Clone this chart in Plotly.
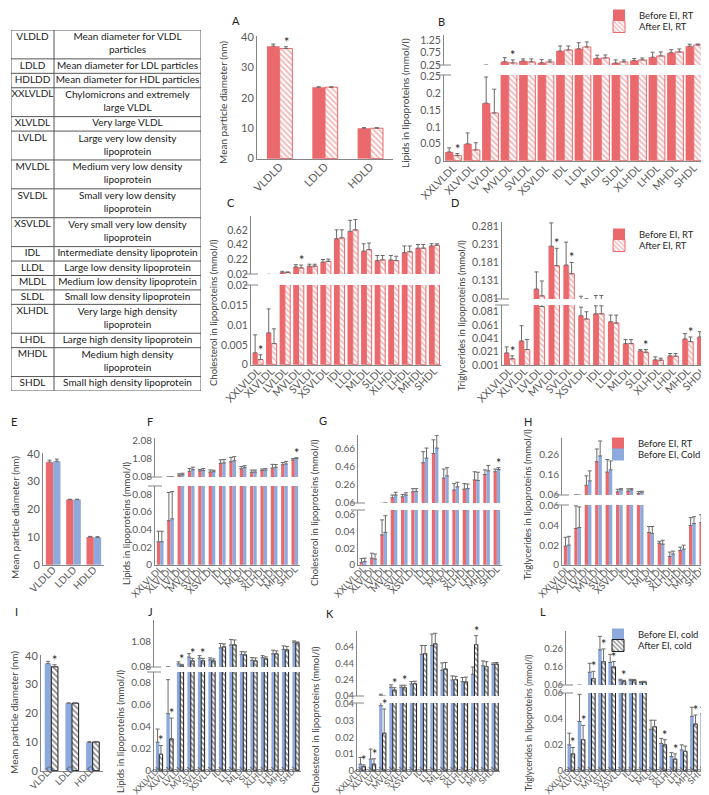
import plotly.graph_objects as go

# ---------------- data ----------------
table_abbr = ["VLDLD", "LDLD", "HDLDD", "XXLVLDL", "XLVLDL", "LVLDL", "MVLDL", "SVLDL",
              "XSVLDL", "IDL", "LLDL", "MLDL", "SLDL", "XLHDL", "LHDL", "MHDL", "SHDL"]
table_desc = ["Mean diameter for VLDL<br>particles", "Mean diameter for LDL particles",
              "Mean diameter for HDL particles", "Chylomicrons and extremely<br>large VLDL",
              "Very large VLDL", "Large very low density<br>lipoprotein",
              "Medium very low density<br>lipoprotein", "Small very low density<br>lipoprotein",
              "Very small very low density<br>lipoprotein", "Intermediate density lipoprotein",
              "Large low density lipoprotein", "Medium low density lipoprotein",
              "Small low density lipoprotein", "Very large high density<br>lipoprotein",
              "Large high density lipoprotein", "Medium high density<br>lipoprotein",
              "Small high density lipoprotein"]

diam_cats = ["VLDLD", "LDLD", "HDLD"]
lp_cats = ["XXLVLDL", "XLVLDL", "LVLDL", "MVLDL", "SVLDL", "XSVLDL", "IDL", "LLDL",
           "MLDL", "SLDL", "XLHDL", "LHDL", "MHDL", "SHDL"]

diam_before_rt = [37.0, 23.5, 10.0]
diam_before_rt_err = [0.7, 0.1, 0.2]
diam_after_rt = [36.2, 23.5, 10.0]
diam_after_rt_err = [0.6, 0.1, 0.2]
diam_before_cold = [37.3, 23.5, 9.8]
diam_before_cold_err = [0.8, 0.1, 0.3]
diam_after_cold = [36.2, 23.5, 10.0]
diam_after_cold_err = [0.7, 0.1, 0.2]

lipids_before_rt = [0.026, 0.05, 0.17, 0.38, 0.41, 0.34, 0.81, 0.90, 0.52, 0.33, 0.43, 0.56, 0.74, 1.00]
lipids_before_rt_err = [0.012, 0.032, 0.077, 0.16, 0.08, 0.12, 0.2, 0.24, 0.12, 0.12, 0.08, 0.2, 0.12, 0.08]
lipids_after_rt = [0.015, 0.032, 0.141, 0.33, 0.37, 0.37, 0.85, 0.97, 0.53, 0.37, 0.45, 0.61, 0.77, 1.05]
lipids_after_rt_err = [0.006, 0.021, 0.07, 0.12, 0.12, 0.08, 0.16, 0.2, 0.12, 0.08, 0.08, 0.16, 0.12, 0.04]
lipids_before_cold = [0.026, 0.052, 0.2, 0.47, 0.43, 0.36, 0.84, 0.96, 0.58, 0.34, 0.45, 0.6, 0.78, 1.07]
lipids_before_cold_err = [0.012, 0.031, 0.08, 0.14, 0.1, 0.08, 0.18, 0.22, 0.11, 0.11, 0.08, 0.15, 0.14, 0.05]
lipids_after_cold = [0.015, 0.029, 0.12, 0.32, 0.32, 0.32, 0.88, 0.96, 0.56, 0.32, 0.4, 0.6, 0.76, 1.04]
lipids_after_cold_err = [0.008, 0.019, 0.06, 0.1, 0.1, 0.08, 0.12, 0.2, 0.12, 0.12, 0.08, 0.12, 0.14, 0.04]

chol_before_rt = [0.0030, 0.008, 0.036, 0.115, 0.125, 0.18, 0.5, 0.6, 0.33, 0.2, 0.21, 0.31, 0.37, 0.4]
chol_before_rt_err = [0.0045, 0.006, 0.018, 0.03, 0.026, 0.035, 0.12, 0.15, 0.1, 0.07, 0.06, 0.09, 0.05, 0.03]
chol_after_rt = [0.0013, 0.0053, 0.04, 0.10, 0.125, 0.19, 0.51, 0.62, 0.35, 0.21, 0.2, 0.32, 0.37, 0.41]
chol_after_rt_err = [0.0012, 0.0037, 0.005, 0.04, 0.026, 0.03, 0.11, 0.14, 0.09, 0.06, 0.06, 0.08, 0.05, 0.02]
chol_before_cold = [0.004, 0.007, 0.039, 0.145, 0.145, 0.185, 0.55, 0.66, 0.355, 0.235, 0.215, 0.305, 0.41, 0.425]
chol_before_cold_err = [0.004, 0.006, 0.02, 0.03, 0.025, 0.03, 0.11, 0.14, 0.09, 0.05, 0.05, 0.09, 0.06, 0.02]
chol_after_cold = [0.0025, 0.004, 0.0225, 0.11, 0.14, 0.19, 0.56, 0.68, 0.37, 0.24, 0.21, 0.67, 0.40, 0.43]
chol_after_cold_err = [0.001, 0.0032, 0.0145, 0.03, 0.03, 0.03, 0.1, 0.13, 0.08, 0.04, 0.06, 0.11, 0.06, 0.02]

tg_before_rt = [0.019, 0.037, 0.108, 0.226, 0.174, 0.075, 0.078, 0.066, 0.033, 0.022, 0.0085, 0.0145, 0.040, 0.043]
tg_before_rt_err = [0.009, 0.023, 0.047, 0.064, 0.063, 0.013, 0.012, 0.010, 0.006, 0.002, 0.0045, 0.0035, 0.008, 0.008]
tg_after_rt = [0.010, 0.024, 0.089, 0.172, 0.15, 0.070, 0.078, 0.064, 0.033, 0.020, 0.008, 0.014, 0.036, 0.040]
tg_after_rt_err = [0.0045, 0.015, 0.041, 0.048, 0.031, 0.011, 0.012, 0.012, 0.006, 0.004, 0.003, 0.004, 0.007, 0.006]
tg_before_cold = [0.020, 0.038, 0.13, 0.255, 0.185, 0.085, 0.085, 0.073, 0.032, 0.021, 0.011, 0.016, 0.042, 0.044]
tg_before_cold_err = [0.009, 0.021, 0.05, 0.075, 0.045, 0.006, 0.006, 0.005, 0.007, 0.004, 0.003, 0.004, 0.007, 0.005]
tg_after_cold = [0.013, 0.024, 0.095, 0.19, 0.16, 0.08, 0.085, 0.075, 0.034, 0.020, 0.009, 0.015, 0.036, 0.041]
tg_after_cold_err = [0.005, 0.011, 0.04, 0.07, 0.03, 0.005, 0.005, 0.005, 0.005, 0.004, 0.004, 0.004, 0.007, 0.006]

# significance stars (placed on the second series of each panel)
A_stars = ["VLDLD"]
B_stars = ["XXLVLDL", "MVLDL"]
C_stars = ["XXLVLDL", "MVLDL"]
D_stars = ["XXLVLDL", "MVLDL", "SVLDL", "SLDL", "MHDL", "SHDL"]
E_stars = []
F_stars = ["SHDL"]
G_stars = ["SHDL"]
H_stars = []
I_stars = ["VLDLD"]
J_stars = ["XXLVLDL", "XLVLDL", "LVLDL", "MVLDL", "SVLDL"]
K_stars = ["XXLVLDL", "XLVLDL", "LVLDL", "MVLDL", "SVLDL", "LHDL"]
L_stars = ["XXLVLDL", "XLVLDL", "LVLDL", "MVLDL", "SVLDL", "XSVLDL", "SLDL", "XLHDL", "MHDL", "SHDL"]

# tick labels
diam_ticks = [0, 10, 20, 30, 40]
B_low_ticks = [0, 0.05, 0.1, 0.15, 0.2, 0.25]
B_up_ticks = [0.25, 0.75, 1.25]
C_low_ticks = [0, 0.005, 0.01, 0.015, 0.02]
C_up_ticks = [0.02, 0.22, 0.42, 0.62]
D_low_ticks = [0.001, 0.021, 0.041, 0.061, 0.081]
D_up_ticks = [0.081, 0.131, 0.181, 0.231, 0.281]
F_low_ticks = [0, 0.02, 0.04, 0.06, 0.08]
F_up_ticks = [0.08, 1.08, 2.08]
G_low_ticks = [0, 0.02, 0.04, 0.06]
G_up_ticks = [0.06, 0.26, 0.46, 0.66]
H_low_ticks = [0, 0.02, 0.04, 0.06]
H_up_ticks = [0.06, 0.16, 0.26]
J_low_ticks = [0, 0.02, 0.04, 0.06, 0.08]
J_up_ticks = [0.08, 1.08]
K_low_ticks = [0, 0.01, 0.02, 0.03, 0.04]
K_up_ticks = [0.04, 0.24, 0.44, 0.64]
L_low_ticks = [0, 0.02, 0.04, 0.06]
L_up_ticks = [0.06, 0.16, 0.26]

# ---------------- styling ----------------
W, H = 709, 795
FONT = "Lato"
RED = "#E9696C"
BLUE = "#8EA9DB"
BLK = "#1c1c1c"
ERR = "#6a6a6a"
AX = "#858585"
TICK = "#595959"
TXT = "#404040"

STYLE = {
    "red": dict(color=RED, line=dict(width=0)),
    "blue": dict(color=BLUE, line=dict(width=0)),
    "redhatch": dict(color="white", line=dict(color=RED, width=1),
                     pattern=dict(shape="\\", fgcolor=RED, bgcolor="white", size=4, solidity=0.45)),
    "blackhatch": dict(color="white", line=dict(color=BLK, width=1),
                       pattern=dict(shape="\\", fgcolor=BLK, bgcolor="white", size=4, solidity=0.45)),
}

fig = go.Figure()
layout = {}
shapes = []
annotations = []
yc = [0]


def xr(n):
    return "x" if n == 1 else f"x{n}"


def yr(n):
    return "y" if n == 1 else f"y{n}"


def xk(n):
    return "xaxis" if n == 1 else f"xaxis{n}"


def yk(n):
    return "yaxis" if n == 1 else f"yaxis{n}"


def add_panel(xn, cats, series, stars, geo, legend_ids=None):
    x0, x1 = geo["x"]
    subs = [geo["low"]] + ([geo["up"]] if geo.get("up") else [])
    ynums = []
    for _ in subs:
        yc[0] += 1
        ynums.append(yc[0])
    layout[xk(xn)] = dict(domain=[x0 / W, x1 / W], anchor=yr(ynums[0]), type="category",
                          categoryorder="array", categoryarray=cats,
                          range=[-0.5, len(cats) - 0.5], showline=True, linecolor=AX, linewidth=1,
                          ticks="", tickangle=-45, tickmode="array", tickvals=cats, ticktext=cats,
                          ticklabelstandoff=geo["so"],
                          tickfont=dict(family=FONT, size=geo["xfs"], color=TICK),
                          showgrid=False, zeroline=False, fixedrange=True)
    w = geo["w"]
    for j, (s, yn) in enumerate(zip(subs, ynums)):
        bot, top, r0, r1, tv = s
        span = r1 - r0
        layout[yk(yn)] = dict(domain=[1 - bot / H, 1 - top / H], range=[r0 - span * 0.003, r1],
                              anchor=xr(xn), showline=True, linecolor=AX, linewidth=1, ticks="",
                              tickmode="array", tickvals=tv, ticktext=[f"{v:g}" for v in tv],
                              tickfont=dict(family=FONT, size=geo["yfs"], color=TICK),
                              showgrid=False, zeroline=False, fixedrange=True)
        for si, (name, vals, errs, style) in enumerate(series):
            fig.add_trace(go.Bar(
                x=cats, y=vals, name=name, width=w, offset=(-w if si == 0 else 0),
                marker=STYLE[style],
                error_y=dict(type="data", array=errs, arrayminus=[0] * len(errs), symmetric=False,
                             color=ERR, thickness=1, width=2),
                xaxis=xr(xn), yaxis=yr(yn),
                showlegend=(legend_ids is not None and j == 0),
                legend=legend_ids[si] if legend_ids else "legend",
                hoverinfo="skip"))
    if geo.get("up"):
        for yy in (geo["low"][1], geo["up"][0]):
            shapes.append(dict(type="line", xref="paper", yref="paper",
                               x0=(x0 - 7) / W, x1=(x0 + 7) / W, y0=1 - yy / H, y1=1 - yy / H,
                               line=dict(color=AX, width=1)))
    name, vals, errs, style = series[1]
    for c in stars:
        i = cats.index(c)
        top = vals[i] + errs[i]
        yn = ynums[0]
        if len(subs) > 1 and top > subs[0][3]:
            yn = ynums[1]
        annotations.append(dict(text="*", x=i + w / 2, y=top, xref=xr(xn), yref=yr(yn),
                                showarrow=False, yanchor="bottom", yshift=-4, borderpad=0,
                                font=dict(family=FONT, size=12.5, color="#222")))


RT = ("Before EI, RT", "After EI, RT")
EF = ("Before EI, RT", "Before EI, Cold")
CL = ("Before EI, cold", "After EI, cold")

# A
add_panel(1, diam_cats,
          [(RT[0], diam_before_rt, diam_before_rt_err, "red"),
           (RT[1], diam_after_rt, diam_after_rt_err, "redhatch")],
          A_stars, dict(x=(249, 385), low=(151, 28, 0, 40.33, diam_ticks), w=0.28, xfs=11, yfs=11,
                        so=-4))
# B
add_panel(2, lp_cats,
          [(RT[0], lipids_before_rt, lipids_before_rt_err, "red"),
           (RT[1], lipids_after_rt, lipids_after_rt_err, "redhatch")],
          B_stars, dict(x=(436, 695), low=(153, 67, 0, 0.253, B_low_ticks),
                        up=(57, 27, 0.25, 1.45, B_up_ticks), w=0.44, xfs=10.5, yfs=10.5, so=-4),
          legend_ids=("legend", "legend2"))
# C
add_panel(3, lp_cats,
          [(RT[0], chol_before_rt, chol_before_rt_err, "red"),
           (RT[1], chol_after_rt, chol_after_rt_err, "redhatch")],
          C_stars, dict(x=(243, 433), low=(357, 277, 0, 0.02, C_low_ticks),
                        up=(266, 208, 0.02, 0.809, C_up_ticks), w=0.39, xfs=10.5, yfs=10.5, so=-5))
# D
add_panel(4, lp_cats,
          [(RT[0], tg_before_rt, tg_before_rt_err, "red"),
           (RT[1], tg_after_rt, tg_after_rt_err, "redhatch")],
          D_stars, dict(x=(494, 702), low=(357, 297, 0.001, 0.0912, D_low_ticks),
                        up=(291, 214, 0.081, 0.2925, D_up_ticks), w=0.37, xfs=10.5, yfs=10.5,
                        so=-5),
          legend_ids=("legend3", "legend4"))
# E
add_panel(5, diam_cats,
          [(EF[0], diam_before_rt, diam_before_rt_err, "red"),
           (EF[1], diam_before_cold, diam_before_cold_err, "blue")],
          E_stars, dict(x=(35, 96), low=(557, 445, 0, 40.3, diam_ticks), w=0.36, xfs=10, yfs=11,
                        so=-6))
# F
add_panel(6, lp_cats,
          [(EF[0], lipids_before_rt, lipids_before_rt_err, "red"),
           (EF[1], lipids_before_cold, lipids_before_cold_err, "blue")],
          F_stars, dict(x=(147, 292), low=(557, 478, 0, 0.0893, F_low_ticks),
                        up=(469, 430, 0.08, 2.19, F_up_ticks), w=0.32, xfs=9.5, yfs=10, so=-6))
# G
add_panel(7, lp_cats,
          [(EF[0], chol_before_rt, chol_before_rt_err, "red"),
           (EF[1], chol_before_cold, chol_before_cold_err, "blue")],
          G_stars, dict(x=(350, 494), low=(557, 502, 0, 0.0659, G_low_ticks),
                        up=(495, 427, 0.06, 0.803, G_up_ticks), w=0.32, xfs=9.5, yfs=10, so=-6))
# H
add_panel(8, lp_cats,
          [(EF[0], tg_before_rt, tg_before_rt_err, "red"),
           (EF[1], tg_before_cold, tg_before_cold_err, "blue")],
          H_stars, dict(x=(554, 700), low=(557, 497, 0, 0.0609, H_low_ticks),
                        up=(487, 430, 0.06, 0.345, H_up_ticks), w=0.32, xfs=9.5, yfs=10, so=-6),
          legend_ids=("legend5", "legend6"))
# I
add_panel(9, diam_cats,
          [(CL[0], diam_before_cold, diam_before_cold_err, "blue"),
           (CL[1], diam_after_cold, diam_after_cold_err, "blackhatch")],
          I_stars, dict(x=(33, 95), low=(763, 647, 0, 40.3, diam_ticks), w=0.32, xfs=9, yfs=11,
                        so=-12))
# J
add_panel(10, lp_cats,
          [(CL[0], lipids_before_cold, lipids_before_cold_err, "blue"),
           (CL[1], lipids_after_cold, lipids_after_cold_err, "blackhatch")],
          J_stars, dict(x=(146, 293), low=(763, 664, 0, 0.09, J_low_ticks),
                        up=(659, 612, 0.08, 1.96, J_up_ticks), w=0.32, xfs=8.6, yfs=10, so=-12))
# K
add_panel(11, lp_cats,
          [(CL[0], chol_before_cold, chol_before_cold_err, "blue"),
           (CL[1], chol_after_cold, chol_after_cold_err, "blackhatch")],
          K_stars, dict(x=(349, 492), low=(763, 695, 0, 0.0406, K_low_ticks),
                        up=(688, 623, 0.04, 0.838, K_up_ticks), w=0.33, xfs=8.6, yfs=9.5, so=-12))
# L
add_panel(12, lp_cats,
          [(CL[0], tg_before_cold, tg_before_cold_err, "blue"),
           (CL[1], tg_after_cold, tg_after_cold_err, "blackhatch")],
          L_stars, dict(x=(558, 701), low=(763, 685, 0, 0.06, L_low_ticks),
                        up=(677, 623, 0.06, 0.36, L_up_ticks), w=0.35, xfs=8.6, yfs=9.5, so=-12),
          legend_ids=("legend7", "legend8"))

# ---------------- table of abbreviations (own hidden axes) ----------------
row_lines = [len(d.split("<br>")) for d in table_desc]
row_top = []
acc = 0
for n in row_lines:
    row_top.append(acc)
    acc += n
total_units = acc
TBL_W = 190
COL1 = 43
layout["xaxis13"] = dict(domain=[3 / W, 193 / W], range=[0, TBL_W], visible=False,
                         anchor="y25", fixedrange=True)
layout["yaxis25"] = dict(domain=[1 - 383 / H, 1 - 22 / H], range=[total_units, 0], visible=False,
                         anchor="x13", fixedrange=True)
fig.add_trace(go.Scatter(
    x=[COL1 / 2] * len(table_abbr), y=[t + 0.5 for t in row_top], text=table_abbr,
    mode="text", textposition="middle center",
    textfont=dict(family=FONT, size=10, color="#1a1a1a"),
    xaxis="x13", yaxis="y25", showlegend=False, hoverinfo="skip", cliponaxis=False))
fig.add_trace(go.Scatter(
    x=[(COL1 + TBL_W) / 2] * len(table_desc), y=[t + n / 2 for t, n in zip(row_top, row_lines)],
    text=table_desc, mode="text", textposition="middle center",
    textfont=dict(family=FONT, size=10, color="#1a1a1a"),
    xaxis="x13", yaxis="y25", showlegend=False, hoverinfo="skip", cliponaxis=False))
TL = dict(color="#555555", width=1)
for b in row_top + [total_units]:
    shapes.append(dict(type="line", xref="x13", yref="y25", x0=0, x1=TBL_W, y0=b, y1=b, line=TL))
for xv in (0, COL1, TBL_W):
    shapes.append(dict(type="line", xref="x13", yref="y25", x0=xv, x1=xv, y0=0, y1=total_units,
                       line=TL))

# panel letters
letters = [("A", 228, 13), ("B", 433, 14), ("C", 223, 195), ("D", 447, 195),
           ("E", 6, 413), ("F", 142, 413), ("G", 315, 412), ("H", 520, 413),
           ("I", 8, 603), ("J", 142, 603), ("K", 322, 605), ("L", 535, 603)]
for t, px, py in letters:
    annotations.append(dict(text=t, x=px / W, y=1 - py / H, xref="paper", yref="paper",
                            showarrow=False, xanchor="center", yanchor="middle",
                            font=dict(family=FONT, size=11, color="#222")))

# axis titles
ytitles = [("Mean particle diameter (nm)", 215, 94, 10), ("Lipids in lipoproteins (mmol/l)", 397, 95, 10),
           ("Cholesterol in lipoproteins (mmol/l)", 205, 305, 9.5),
           ("Triglycerides in lipoproteins (mmol/l)", 453, 308, 9.5),
           ("Mean particle diameter (nm)", 7, 510, 10), ("Lipids in lipoproteins (mmol/l)", 118, 515, 9.5),
           ("Cholesterol in lipoproteins (mmol/l)", 306, 505, 9.5),
           ("Triglycerides in lipoproteins (mmol/l)", 519, 497, 9.5),
           ("Mean particle diameter (nm)", 6, 705, 10), ("Lipids in lipoproteins (mmol/l)", 112, 723, 9.5),
           ("Cholesterol in lipoproteins (mmol/l)", 307, 712, 9.5),
           ("Triglycerides in lipoproteins (mmol/l)", 521, 715, 8.6)]
for t, px, py, fs in ytitles:
    annotations.append(dict(text=t, x=px / W, y=1 - py / H, xref="paper", yref="paper",
                            showarrow=False, textangle=-90, xanchor="center", yanchor="middle",
                            font=dict(family=FONT, size=fs, color=TXT)))

# one single-entry legend per row, so the rows can sit as close as in the original
LEG_OFF = 14
legend_rows = {"legend": (591, 7), "legend2": (591, 18), "legend3": (591, 226),
               "legend4": (591, 237), "legend5": (590, 435), "legend6": (590, 446),
               "legend7": (590, 626), "legend8": (590, 637)}
for k, (lx, ly) in legend_rows.items():
    layout[k] = dict(x=lx / W, y=1 - (ly - LEG_OFF) / H, xanchor="left", yanchor="top",
                     bgcolor="rgba(0,0,0,0)", font=dict(family=FONT, size=9.5, color="#262626"),
                     itemwidth=30, tracegroupgap=0, itemclick=False, itemdoubleclick=False)

fig.update_layout(
    width=W, height=H, margin=dict(l=0, r=0, t=0, b=0, autoexpand=False),
    paper_bgcolor="white", plot_bgcolor="rgba(0,0,0,0)",
    barmode="overlay", showlegend=True,
    font=dict(family=FONT, size=11, color=TXT),
    shapes=shapes, annotations=annotations,
    **layout,
)

fig.write_html("out.html")
